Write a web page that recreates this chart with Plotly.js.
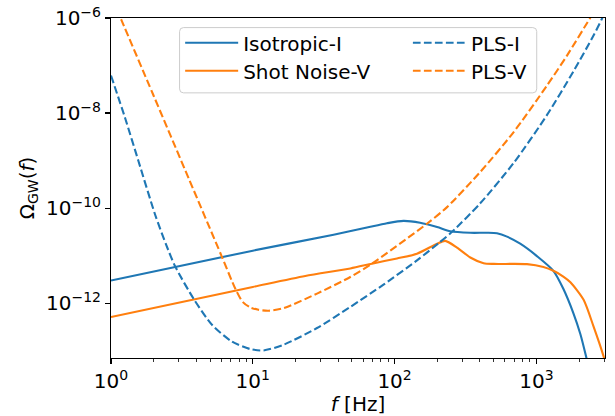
<!DOCTYPE html>
<html>
<head>
<meta charset="utf-8">
<script src="https://cdn.plot.ly/plotly-3.0.1.min.js"></script>
<style>html,body{margin:0;padding:0;background:#fff;}#chart{width:615px;height:416px;}</style>
</head>
<body>
<div id="chart"></div>
<script>
// Isotropic-I (solid blue)
const isoF = [1, 10, 37.15, 63.83, 88.31, 115.6, 151.4, 199.5, 247.2, 342.0, 446.7, 527.2, 620.9, 769.1, 1009, 1318, 1549, 1828, 2042, 2249, 2399];
const isoO = [2.99e-12, 1.27e-11, 2.75e-11, 3.89e-11, 4.79e-11, 5.37e-11, 4.90e-11, 3.98e-11, 3.24e-11, 3.02e-11, 3.02e-11, 2.95e-11, 2.51e-11, 1.78e-11, 9.77e-12, 4.79e-12, 2.0e-12, 6.03e-13, 2.24e-13, 7.24e-14, 3.16e-14];

// Shot Noise-V (solid orange)
const shotF = [1, 10, 23.44, 48.75, 69.18, 104.0, 143.9, 199.5, 227.5, 275.4, 342.0, 424.6, 501.2, 859.0, 1122, 1318, 1549, 1738, 2153, 2529, 2979, 3162];
const shotO = [5.08e-13, 2.19e-12, 3.72e-12, 5.37e-12, 6.76e-12, 8.71e-12, 1.096e-11, 1.78e-11, 2.04e-11, 1.48e-11, 9.12e-12, 6.92e-12, 6.68e-12, 6.61e-12, 5.75e-12, 4.79e-12, 3.63e-12, 2.75e-12, 1.175e-12, 3.24e-13, 7.59e-14, 3.98e-14];

// PLS-I (dashed blue)
const plsIF = [1, 1.259, 1.567, 2.051, 2.455, 2.838, 3.828, 5.152, 7.129, 9.594, 11.91, 16.48, 28.38, 48.75, 83.56, 143.9, 204.2, 254.1, 401.8, 691.8, 1189, 1828, 2529, 2884, 3162];
const plsIO = [6.17e-8, 7.76e-9, 9.44e-10, 7.16e-11, 1.66e-11, 5.89e-12, 1.23e-12, 3.50e-13, 1.55e-13, 1.08e-13, 1.01e-13, 1.33e-13, 2.99e-13, 8.32e-13, 2.45e-12, 7.94e-12, 1.82e-11, 3.16e-11, 1.26e-10, 8.91e-10, 9.12e-9, 7.59e-8, 4.27e-7, 9.33e-7, 1.78e-6];

// PLS-V (dashed orange)
const plsVF = [1.096, 1.189, 1.995, 3.548, 6.026, 7.534, 8.511, 9.594, 10.96, 12.91, 16.48, 28.38, 48.75, 69.18, 169.0, 234.4, 401.8, 691.8, 1189, 1644, 2371, 2630];
const plsVO = [1.55e-6, 8.81e-7, 2.34e-8, 4.07e-10, 9.77e-12, 2.0e-12, 1.047e-12, 8.13e-13, 7.24e-13, 6.92e-13, 7.85e-13, 1.585e-12, 3.55e-12, 6.76e-12, 4.68e-11, 1.047e-10, 5.75e-10, 3.98e-9, 3.80e-8, 1.62e-7, 9.55e-7, 1.585e-6];

const xTickVals = [1, 10, 100, 1000];
const xTickText = ['10<sup>0</sup>', '10<sup>1</sup>', '10<sup>2</sup>', '10<sup>3</sup>'];
const yTickVals = [1e-12, 1e-10, 1e-8, 1e-6];
const yTickText = ['10<sup>\u221212</sup>', '10<sup>\u221210</sup>', '10<sup>\u22128</sup>', '10<sup>\u22126</sup>'];
const xMinorVals = [2,3,4,5,6,7,8,9,20,30,40,50,60,70,80,90,200,300,400,500,600,700,800,900,2000,3000];

const blue = '#1f77b4', orange = '#ff7f0e';
const dash = '7.7px,3.3px';
const sm = 0.7;

const traces = [
  {x: isoF, y: isoO, name: 'Isotropic-I', legend: 'legend', mode: 'lines', line: {color: blue, width: 2.1, shape: 'spline', smoothing: sm}},
  {x: shotF, y: shotO, name: 'Shot Noise-V', legend: 'legend2', mode: 'lines', line: {color: orange, width: 2.1, shape: 'spline', smoothing: sm}},
  {x: plsIF, y: plsIO, name: 'PLS-I', legend: 'legend3', mode: 'lines', line: {color: blue, width: 2.1, dash: dash, shape: 'spline', smoothing: sm}},
  {x: plsVF, y: plsVO, name: 'PLS-V', legend: 'legend4', mode: 'lines', line: {color: orange, width: 2.1, dash: dash, shape: 'spline', smoothing: sm}}
];

const font = {family: 'DejaVu Sans, sans-serif', size: 20, color: '#000'};

const legendCommon = {
  orientation: 'v', yanchor: 'middle', xanchor: 'left',
  bgcolor: 'rgba(0,0,0,0)', borderwidth: 0, itemwidth: 53,
  tracegroupgap: 0, font: font
};
const row1 = 0.927, row2 = 0.845, col1 = 0.140, col2 = 0.601;

// legend frame (rounded) in paper coordinates
const bx0 = 0.1388, bx1 = 0.8618, by0 = 0.7798, by1 = 0.9718, rx = 0.008, ry = 0.0117;
const framePath = 'M ' + (bx0 + rx) + ' ' + by1 + ' L ' + (bx1 - rx) + ' ' + by1 +
  ' Q ' + bx1 + ' ' + by1 + ' ' + bx1 + ' ' + (by1 - ry) + ' L ' + bx1 + ' ' + (by0 + ry) +
  ' Q ' + bx1 + ' ' + by0 + ' ' + (bx1 - rx) + ' ' + by0 + ' L ' + (bx0 + rx) + ' ' + by0 +
  ' Q ' + bx0 + ' ' + by0 + ' ' + bx0 + ' ' + (by0 + ry) + ' L ' + bx0 + ' ' + (by1 - ry) +
  ' Q ' + bx0 + ' ' + by1 + ' ' + (bx0 + rx) + ' ' + by1 + ' Z';

const layout = {
  width: 615, height: 416,
  margin: {l: 110.7, r: 10, t: 17.7, b: 57.7, pad: 0},
  paper_bgcolor: '#fff', plot_bgcolor: '#fff',
  font: font,
  showlegend: true,
  legend: Object.assign({}, legendCommon, {x: col1, y: row1}),
  legend2: Object.assign({}, legendCommon, {x: col1, y: row2}),
  legend3: Object.assign({}, legendCommon, {x: col2, y: row1}),
  legend4: Object.assign({}, legendCommon, {x: col2, y: row2}),
  shapes: [{type: 'path', xref: 'paper', yref: 'paper', path: framePath,
            line: {color: '#cccccc', width: 1}, fillcolor: 'rgba(255,255,255,0.8)', layer: 'above'}],
  xaxis: {
    type: 'log', range: [0, 3.484],
    tickmode: 'array', tickvals: xTickVals, ticktext: xTickText,
    ticks: 'outside', ticklen: 4.9, tickwidth: 1.1, tickcolor: '#000',
    minor: {tickmode: 'array', tickvals: xMinorVals, ticks: 'outside', ticklen: 2.8, tickwidth: 0.8, tickcolor: '#000', showgrid: false},
    showline: true, linecolor: '#000', linewidth: 1.1, mirror: true,
    showgrid: false, zeroline: false,
    title: {text: '<i>f</i> [Hz]', font: font, standoff: 8},
    tickfont: font
  },
  yaxis: {
    type: 'log', range: [-13.155, -6],
    tickmode: 'array', tickvals: yTickVals, ticktext: yTickText,
    ticks: 'outside', ticklen: 4.9, tickwidth: 1.1, tickcolor: '#000',
    showline: true, linecolor: '#000', linewidth: 1.1, mirror: true,
    showgrid: false, zeroline: false,
    title: {text: '\u03A9<sub>GW</sub>(<i>f</i>)', font: font, standoff: 6},
    tickfont: font
  }
};

Plotly.newPlot('chart', traces, layout, {displayModeBar: false, staticPlot: true});
</script>
</body>
</html>
